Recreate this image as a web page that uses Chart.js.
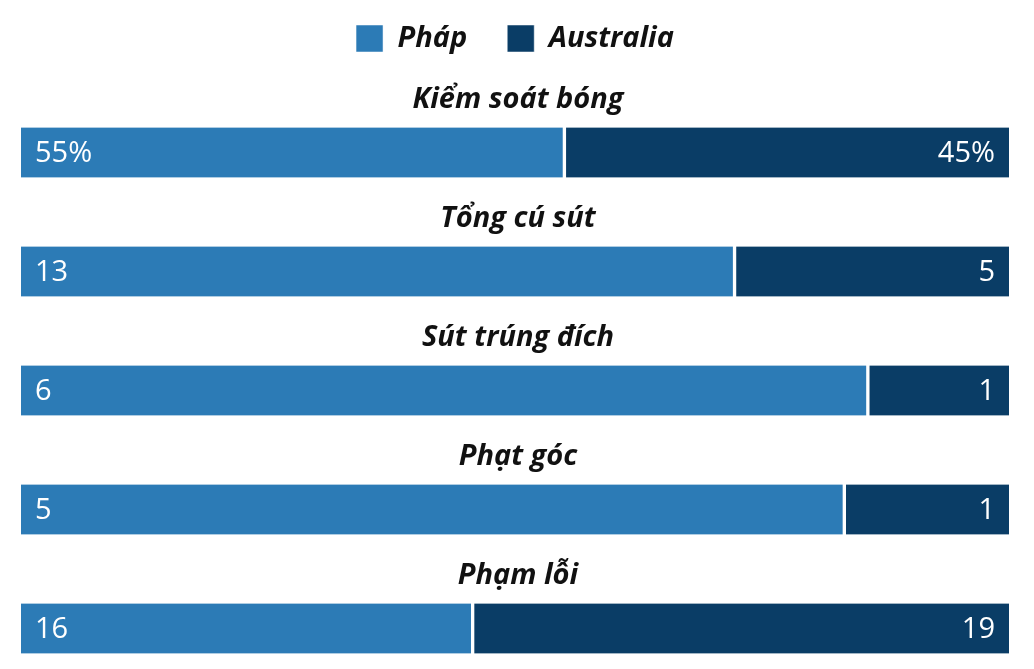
<!DOCTYPE html>
<html>
<head>
<meta charset="utf-8">
<script src="https://cdn.jsdelivr.net/npm/chart.js@4.4.0/dist/chart.umd.min.js"></script>
<style>
  html, body { margin: 0; padding: 0; background: #fff; }
  #wrap { width: 1034px; height: 669px; }
</style>
</head>
<body>
<div id="wrap"><canvas id="myChart"></canvas></div>
<script>
// Số liệu trận Pháp - Australia
var categories = ["Kiểm soát bóng", "Tổng cú sút", "Sút trúng đích", "Phạt góc", "Phạm lỗi"];
var phapValues = [55, 13, 6, 5, 16];
var australiaValues = [45, 5, 1, 1, 19];
var phapLabels = ["55%", "13", "6", "5", "16"];
var australiaLabels = ["45%", "5", "1", "1", "19"];
var teamNames = ["Pháp", "Australia"];
var teamColors = ["#2C7BB6", "#0A3D66"];

// moi hang chia theo ti le de lap day chieu rong
var phapShare = phapValues.map(function (v, i) {
  return (v / (v + australiaValues[i])) * 100;
});
var australiaShare = australiaValues.map(function (v, i) {
  return (v / (v + phapValues[i])) * 100;
});

var titleFont = "italic bold 29px 'Open Sans', sans-serif";
var valueFont = "29px 'Open Sans', sans-serif";

// ve tieu de tren moi thanh va so lieu ben trong
var rowText = {
  id: "rowText",
  afterDatasetsDraw: function (chart) {
    var ctx = chart.ctx;
    var area = chart.chartArea;
    var yScale = chart.scales.y;
    var xScale = chart.scales.x;
    ctx.save();
    categories.forEach(function (name, i) {
      var y = yScale.getPixelForValue(i);
      ctx.font = titleFont;
      ctx.fillStyle = "#111";
      ctx.textAlign = "center";
      ctx.textBaseline = "middle";
      ctx.fillText(name, (area.left + area.right) / 2 + 3, y - 53);

      ctx.font = valueFont;
      ctx.fillStyle = "#fff";
      ctx.textAlign = "left";
      ctx.fillText(phapLabels[i], xScale.getPixelForValue(0) + 14, y + 1);
      ctx.textAlign = "right";
      ctx.fillText(australiaLabels[i], xScale.getPixelForValue(100) - 14, y + 1);
    });
    ctx.restore();
  },
};

var ctx = document.getElementById("myChart").getContext("2d");
var myChart = new Chart(ctx, {
  type: "bar",
  data: {
    labels: categories,
    datasets: [
      {
        label: teamNames[0],
        data: phapShare,
        backgroundColor: teamColors[0],
        borderColor: "#fff",
        borderWidth: { left: 0, right: 2, top: 0, bottom: 0 },
        borderSkipped: false,
        barThickness: 50,
        clip: false,
      },
      {
        label: teamNames[1],
        data: australiaShare,
        backgroundColor: teamColors[1],
        borderColor: "#fff",
        borderWidth: { left: 2, right: 0, top: 0, bottom: 0 },
        borderSkipped: false,
        barThickness: 50,
        clip: false,
      },
    ],
  },
  options: {
    indexAxis: "y",
    responsive: true,
    maintainAspectRatio: false,
    animation: false,
    layout: {
      padding: { top: -16, left: 21, right: 25, bottom: 40.5 },
    },
    scales: {
      x: {
        stacked: true,
        min: 0,
        max: 100,
        position: "top",
        grid: { display: false },
        border: { display: false },
        ticks: { display: false },
        afterFit: function (scale) {
          scale.height = 89.5;
        },
      },
      y: {
        stacked: true,
        display: false,
        offset: false,
      },
    },
    plugins: {
      legend: {
        position: "top",
        labels: {
          boxWidth: 27,
          boxHeight: 27,
          padding: 40,
          color: "#111",
          font: { family: "'Open Sans', sans-serif", size: 29, style: "italic", weight: "bold" },
        },
      },
      tooltip: { enabled: false },
    },
  },
  plugins: [rowText],
});
</script>
</body>
</html>
